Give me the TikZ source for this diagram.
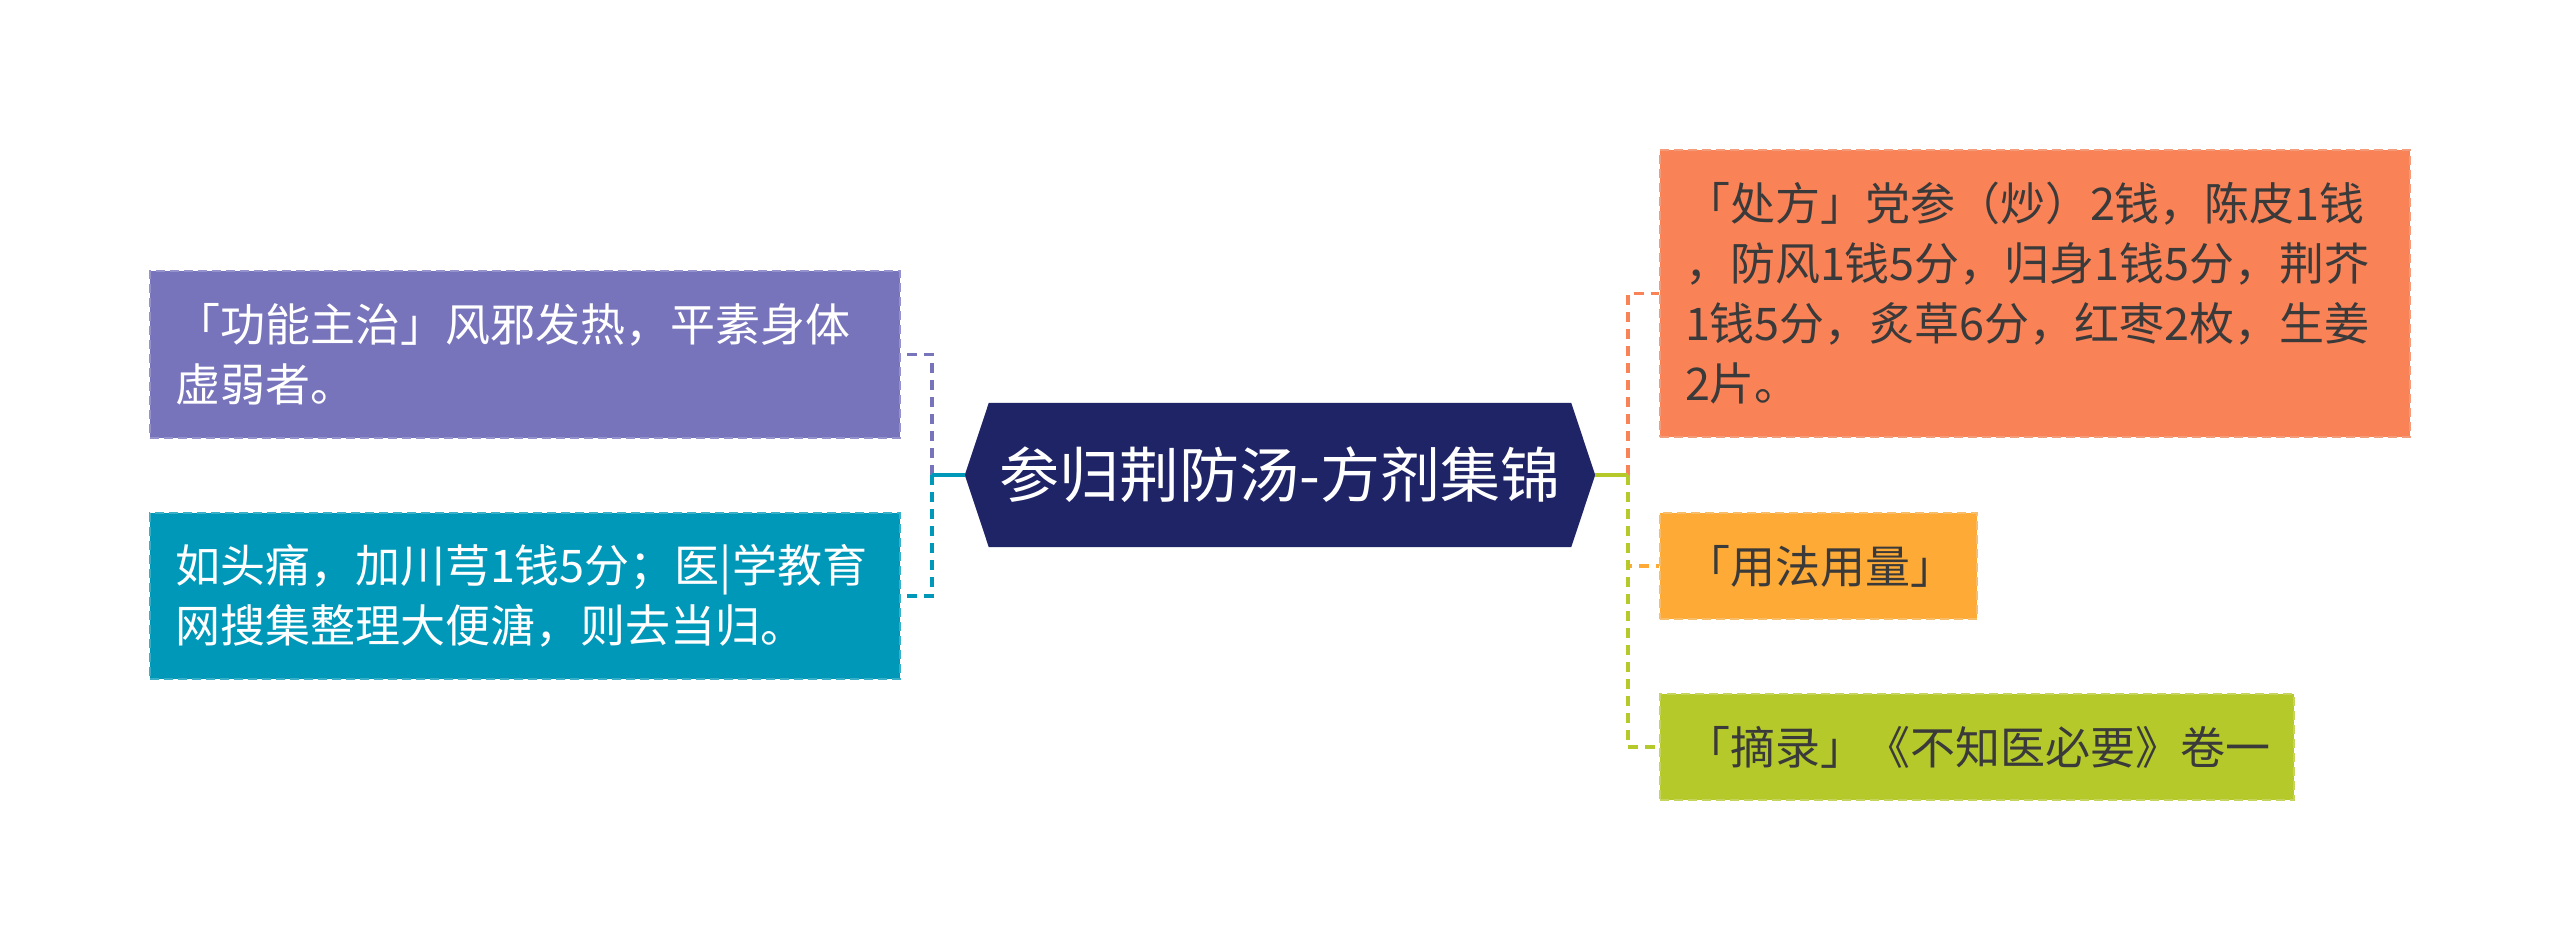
\documentclass[tikz,border=0pt]{standalone}
\usepackage{fontspec}
\setmainfont{Noto Sans CJK SC}
\usetikzlibrary{backgrounds}
\definecolor{cpurple}{HTML}{7774BC}
\definecolor{cpurpleb}{HTML}{9592CC}
\definecolor{cteal}{HTML}{0098B9}
\definecolor{ctealb}{HTML}{3AAFC8}
\definecolor{cnavy}{HTML}{1F2466}
\definecolor{corange}{HTML}{FA8257}
\definecolor{corangeb}{HTML}{F29C7C}
\definecolor{cyellow}{HTML}{FDAA36}
\definecolor{cyellowb}{HTML}{F8BD68}
\definecolor{cgreen}{HTML}{B5C92B}
\definecolor{cgreenb}{HTML}{C6D45E}
\definecolor{cdark}{HTML}{3A3A3A}
\tikzset{
  leaf/.style={rectangle, line width=2.5pt, dash pattern=on 9pt off 5pt,
    minimum height=#1, inner xsep=25pt, inner ysep=0pt, text width=700pt, align=left,
    font=\fontsize{45pt}{60pt}\selectfont},
  conn/.style={line width=3.5pt, dash pattern=on 10pt off 7pt},
  stem/.style={line width=3.5pt}
}
\begin{document}
\begin{tikzpicture}[x=1pt,y=-1pt]
\useasboundingbox (0,0) rectangle (2560,950);
% center
\node[minimum width=630pt, minimum height=144pt, inner sep=0pt, text=white,
  font=\fontsize{60pt}{64pt}\selectfont] (hex) at (1280,475) {参归荆防汤-方剂集锦};
\begin{scope}[on background layer]
\fill[white] (0,0) rectangle (2560,950);
\fill[cnavy] (hex.west) -- ([xshift=24pt]hex.north west) -- ([xshift=-24pt]hex.north east)
  -- (hex.east) -- ([xshift=-24pt]hex.south east) -- ([xshift=24pt]hex.south west) -- cycle;
\end{scope}
% left boxes
\node[leaf=167pt, fill=cpurple, draw=cpurpleb, text=white] (p) at (525,354.5)
  {「功能主治」风邪发热，平素身体\\虚弱者。};
\node[leaf=166pt, fill=cteal, draw=ctealb, text=white] (t) at (525,596)
  {如头痛，加川芎1钱5分；医|学教育\\网搜集整理大便溏，则去当归。};
% right boxes
\node[leaf=287pt, fill=corange, draw=corangeb, text=cdark] (o) at (2035,293.5)
  {「处方」党参（炒）2钱，陈皮1钱\\，防风1钱5分，归身1钱5分，荆芥\\1钱5分，炙草6分，红枣2枚，生姜\\2片。};
\node[leaf=106pt, fill=cyellow, draw=cyellowb, text=cdark, text width=267pt] (y) at (1818.5,566)
  {「用法用量」};
\node[leaf=106pt, fill=cgreen, draw=cgreenb, text=cdark, text width=584pt] (g) at (1977,747)
  {「摘录」《不知医必要》卷一};
% connectors left
\coordinate (lj) at (932,475);
\draw[conn, cpurple] (lj) |- (p.east);
\draw[conn, cteal] (lj) |- (t.east);
\draw[stem, cteal] (hex.west) -- (lj);
% connectors right
\coordinate (rj) at (1628,475);
\draw[conn, corange] (rj) |- (o.west);
\draw[conn, cyellow] (rj) |- (y.west);
\draw[conn, cgreen] (rj) |- (g.west);
\draw[stem, cgreen] (hex.east) -- (rj);
\end{tikzpicture}
\end{document}
